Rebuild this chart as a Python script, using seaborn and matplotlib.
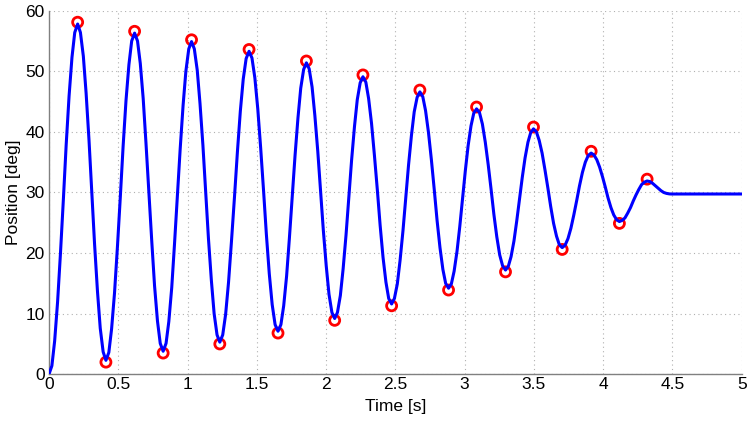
import matplotlib
matplotlib.use("Agg")
import matplotlib.pyplot as plt
import seaborn as sns
import pandas as pd

# Line trace (time in s, position in deg)
time_s = [
    0.000,
    0.021, 0.041, 0.062, 0.083, 0.104, 0.124, 0.145, 0.166, 0.186, 0.207,
    0.227, 0.248, 0.268, 0.289, 0.309, 0.329, 0.350, 0.370, 0.391, 0.411,
    0.432, 0.452, 0.473, 0.494, 0.515, 0.535, 0.556, 0.577, 0.597, 0.618,
    0.639, 0.659, 0.680, 0.700, 0.721, 0.742, 0.762, 0.783, 0.803, 0.824,
    0.845, 0.865, 0.886, 0.906, 0.927, 0.947, 0.968, 0.988, 1.009, 1.029,
    1.049, 1.070, 1.090, 1.111, 1.131, 1.151, 1.172, 1.192, 1.213, 1.233,
    1.254, 1.275, 1.296, 1.317, 1.339, 1.360, 1.381, 1.402, 1.423, 1.444,
    1.465, 1.486, 1.507, 1.528, 1.549, 1.569, 1.590, 1.611, 1.632, 1.653,
    1.674, 1.694, 1.715, 1.735, 1.756, 1.776, 1.797, 1.817, 1.838, 1.858,
    1.878, 1.899, 1.919, 1.940, 1.960, 1.980, 2.001, 2.021, 2.042, 2.062,
    2.082, 2.103, 2.123, 2.144, 2.164, 2.184, 2.205, 2.225, 2.246, 2.266,
    2.287, 2.307, 2.328, 2.349, 2.370, 2.390, 2.411, 2.432, 2.452, 2.473,
    2.493, 2.514, 2.534, 2.555, 2.575, 2.595, 2.616, 2.636, 2.657, 2.677,
    2.698, 2.718, 2.739, 2.760, 2.781, 2.801, 2.822, 2.843, 2.863, 2.884,
    2.904, 2.924, 2.945, 2.965, 2.985, 3.005, 3.025, 3.046, 3.066, 3.086,
    3.107, 3.128, 3.149, 3.170, 3.191, 3.211, 3.232, 3.253, 3.274, 3.295,
    3.315, 3.335, 3.356, 3.376, 3.396, 3.416, 3.436, 3.457, 3.477, 3.497,
    3.518, 3.538, 3.559, 3.580, 3.601, 3.621, 3.642, 3.663, 3.683, 3.704,
    3.725, 3.746, 3.767, 3.788, 3.809, 3.829, 3.850, 3.871, 3.892, 3.913,
    3.933, 3.954, 3.974, 3.995, 4.015, 4.035, 4.056, 4.076, 4.097, 4.117,
    4.137, 4.157, 4.177, 4.197, 4.217, 4.237, 4.257, 4.277, 4.297, 4.317,
    4.337, 4.357, 4.377, 4.397, 4.417, 4.437, 4.457, 4.477, 4.490, 5.000,
]
position_deg = [
    0.0,
    1.4, 5.5, 11.9, 20.0, 28.9, 37.8, 45.9, 52.3, 56.4, 57.8,
    56.4, 52.5, 46.4, 38.6, 30.1, 21.5, 13.7, 7.6, 3.7, 2.3,
    3.6, 7.5, 13.4, 21.0, 29.3, 37.6, 45.2, 51.1, 55.0, 56.3,
    55.0, 51.3, 45.5, 38.2, 30.1, 21.9, 14.6, 8.8, 5.1, 3.8,
    5.1, 8.7, 14.3, 21.5, 29.4, 37.2, 44.4, 50.0, 53.7, 54.9,
    53.7, 50.2, 44.7, 37.8, 30.1, 22.4, 15.5, 10.0, 6.5, 5.3,
    6.5, 9.9, 15.2, 21.9, 29.3, 36.7, 43.4, 48.7, 52.1, 53.3,
    52.2, 48.9, 43.8, 37.3, 30.2, 23.1, 16.6, 11.5, 8.2, 7.1,
    8.2, 11.3, 16.2, 22.4, 29.3, 36.1, 42.3, 47.2, 50.3, 51.4,
    50.4, 47.4, 42.7, 36.8, 30.3, 23.8, 17.9, 13.2, 10.2, 9.2,
    10.2, 13.0, 17.4, 23.0, 29.2, 35.3, 40.9, 45.3, 48.1, 49.1,
    48.2, 45.5, 41.4, 36.1, 30.4, 24.6, 19.3, 15.2, 12.5, 11.6,
    12.5, 14.9, 18.8, 23.7, 29.1, 34.5, 39.4, 43.3, 45.7, 46.6,
    45.8, 43.5, 39.9, 35.4, 30.4, 25.4, 20.9, 17.3, 15.0, 14.2,
    14.9, 17.0, 20.3, 24.4, 29.0, 33.6, 37.7, 41.0, 43.1, 43.8,
    43.2, 41.3, 38.3, 34.6, 30.5, 26.4, 22.7, 19.7, 17.9, 17.2,
    17.8, 19.4, 22.0, 25.3, 28.9, 32.5, 35.7, 38.3, 39.9, 40.5,
    40.0, 38.6, 36.5, 33.7, 30.7, 27.7, 24.9, 22.8, 21.4, 20.9,
    21.3, 22.4, 24.1, 26.3, 28.7, 31.1, 33.3, 35.0, 36.1, 36.5,
    36.2, 35.4, 34.2, 32.6, 30.9, 29.1, 27.5, 26.3, 25.5, 25.2,
    25.4, 25.8, 26.6, 27.5, 28.6, 29.6, 30.5, 31.3, 31.7, 31.9,
    31.8, 31.5, 31.1, 30.7, 30.3, 30.0, 29.85, 29.77, 29.75, 29.75,
]

# Detected extrema (red circles)
peak_time = [0.207, 0.411, 0.618, 0.824, 1.029, 1.233, 1.444, 1.653, 1.858, 2.062, 2.266,
             2.473, 2.677, 2.884, 3.086, 3.295, 3.497, 3.704, 3.913, 4.117, 4.317]
peak_pos = [58.1, 2.0, 56.6, 3.5, 55.2, 5.0, 53.6, 6.8, 51.7, 8.9, 49.4,
            11.3, 46.9, 13.9, 44.1, 16.9, 40.8, 20.6, 36.8, 24.9, 32.2]

x_ticks = [0, 0.5, 1, 1.5, 2, 2.5, 3, 3.5, 4, 4.5, 5]
y_ticks = [0, 10, 20, 30, 40, 50, 60]

sns.set_style("white")
plt.rcParams['font.family'] = ['Liberation Sans', 'DejaVu Sans']
plt.rcParams['text.color'] = 'black'
plt.rcParams['axes.labelcolor'] = 'black'

trace = pd.DataFrame({'t': time_s, 'pos': position_deg})
peaks = pd.DataFrame({'t': peak_time, 'pos': peak_pos})

fig = plt.figure(figsize=(7.5, 4.21), dpi=100)
ax = fig.add_axes([0.0653, 0.111, 0.9237, 0.8636])

sns.scatterplot(data=peaks, x='t', y='pos', ax=ax, marker='o', s=52,
                facecolors='none', edgecolor='#ff0000', linewidth=2.0, zorder=2)
sns.lineplot(data=trace, x='t', y='pos', ax=ax, sort=False, estimator=None,
             color='#0000ff', linewidth=2.2, zorder=3)

ax.set_xlim(0, 5)
ax.set_ylim(0, 60)
ax.set_xticks(x_ticks)
ax.set_xticklabels([f'{v:g}' for v in x_ticks])
ax.set_yticks(y_ticks)
ax.grid(True, linestyle=(0, (1, 3)), color='#b0b0b0', linewidth=0.8)
ax.set_axisbelow(True)

for side in ['top', 'right']:
    ax.spines[side].set_visible(False)
for side in ['left', 'bottom']:
    ax.spines[side].set_color('#808080')
    ax.spines[side].set_linewidth(1.0)

ax.tick_params(direction='in', length=4, width=0.8, color='#808080',
               labelsize=12.5, labelcolor='black')
ax.tick_params(axis='x', pad=2)
ax.tick_params(axis='y', pad=3)
ax.set_xlabel('Time [s]', fontsize=12.5, labelpad=5, color='black')
ax.set_ylabel('Position [deg]', fontsize=12.5, labelpad=3, color='black')

fig.savefig('out.png', dpi=100)
